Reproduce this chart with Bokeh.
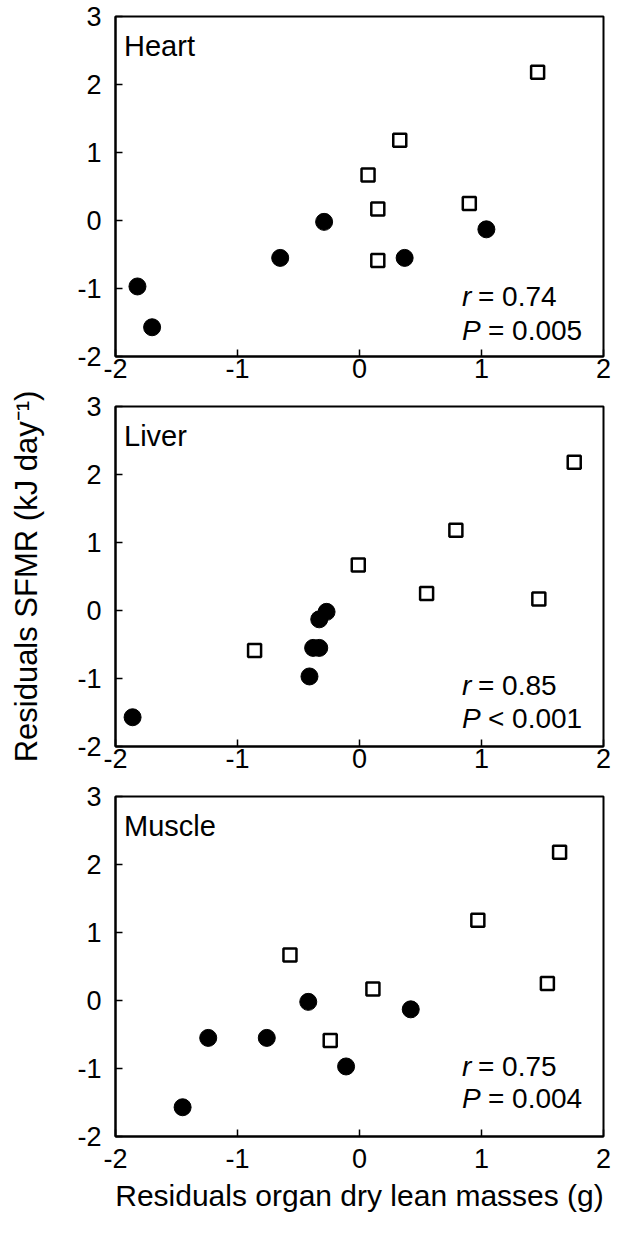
from bokeh.plotting import figure
from bokeh.layouts import column
from bokeh.models import FixedTicker, Label, Range1d
from bokeh.embed import file_html
from bokeh.resources import INLINE

# ---- data ----
panels = ["Heart", "Liver", "Muscle"]
r_values = ["0.74", "0.85", "0.75"]
p_texts = ["= 0.005", "< 0.001", "= 0.004"]

# residual SFMR (shared by all panels)
sfmr_open = [2.18, 1.18, 0.67, 0.17, 0.25, -0.59]
sfmr_filled = [-0.97, -1.57, -0.55, -0.55, -0.02, -0.13]

# residual organ dry lean masses per panel
heart_open = [1.46, 0.33, 0.07, 0.15, 0.90, 0.15]
heart_filled = [-1.82, -1.70, -0.65, 0.37, -0.29, 1.04]
liver_open = [1.76, 0.79, -0.01, 1.47, 0.55, -0.86]
liver_filled = [-0.41, -1.86, -0.38, -0.33, -0.27, -0.33]
muscle_open = [1.64, 0.97, -0.57, 0.11, 1.54, -0.24]
muscle_filled = [-0.11, -1.45, -1.24, -0.76, -0.42, 0.42]

x_ticks = [-2, -1, 0, 1, 2]
y_ticks = [-2, -1, 0, 1, 2, 3]

FONT = "Liberation Sans"
TICK_FS = "27px"
STAT_FS = "28px"

open_x = [heart_open, liver_open, muscle_open]
filled_x = [heart_filled, liver_filled, muscle_filled]

heights = [389, 390, 444]
tops = [16, 17, 17]
bottoms = [33, 33, 87]
x_standoff = [2, 2, 12]
stat_y = [(-1.12, -1.62), (-1.10, -1.59), (-0.97, -1.44)]

figs = []
for i, name in enumerate(panels):
    p = figure(width=616, height=heights[i], output_backend="svg",
               toolbar_location=None, x_range=Range1d(-2, 2), y_range=Range1d(-2, 3),
               min_border_left=115, min_border_right=13,
               min_border_top=tops[i], min_border_bottom=bottoms[i])
    p.grid.visible = False
    p.outline_line_color = "black"
    p.outline_line_width = 2
    p.outline_line_alpha = 1
    p.background_fill_color = "white"
    p.border_fill_color = "white"
    for ax, ticks in ((p.xaxis, x_ticks), (p.yaxis, y_ticks)):
        ax.ticker = FixedTicker(ticks=ticks)
        ax.major_label_overrides = {t: str(t) for t in ticks}
        ax.major_tick_in = 7
        ax.major_tick_out = 0
        ax.minor_tick_line_color = None
        ax.axis_line_width = 2
        ax.axis_line_color = "black"
        ax.major_tick_line_width = 1.5
        ax.major_tick_line_color = "black"
        ax.major_label_text_font = FONT
        ax.major_label_text_font_size = TICK_FS
        ax.major_label_text_color = "black"
    p.xaxis.major_label_standoff = x_standoff[i]
    p.yaxis.major_label_standoff = 14

    if i == 1:
        p.yaxis.axis_label = "Residuals SFMR (kJ day\u207b\u00b9)"
        p.yaxis.axis_label_text_font = FONT
        p.yaxis.axis_label_text_font_size = "31px"
        p.yaxis.axis_label_text_font_style = "normal"
        p.yaxis.axis_label_text_color = "black"
        p.yaxis.axis_label_standoff = 30
    if i == 2:
        p.xaxis.axis_label = "Residuals organ dry lean masses (g)"
        p.xaxis.axis_label_text_font = FONT
        p.xaxis.axis_label_text_font_size = "30px"
        p.xaxis.axis_label_text_font_style = "normal"
        p.xaxis.axis_label_text_color = "black"
        p.xaxis.axis_label_standoff = 8

    p.scatter(filled_x[i], sfmr_filled, marker="circle", size=17,
              fill_color="black", line_color="black")
    p.scatter(open_x[i], sfmr_open, marker="square", size=13,
              fill_color="white", line_color="black", line_width=2.5)

    p.add_layout(Label(x=-1.93, y=2.56, text=name, text_font=FONT, text_color="black",
                       text_font_size="29px", text_baseline="middle"))
    ry, py = stat_y[i]
    p.add_layout(Label(x=0.84, y=ry, text="r", text_font=FONT, text_font_style="italic",
                       text_color="black", text_font_size=STAT_FS, text_baseline="middle"))
    p.add_layout(Label(x=0.84, y=ry, x_offset=16, text="= " + r_values[i], text_font=FONT,
                       text_color="black", text_font_size=STAT_FS, text_baseline="middle"))
    p.add_layout(Label(x=0.84, y=py, text="P", text_font=FONT, text_font_style="italic",
                       text_color="black", text_font_size=STAT_FS, text_baseline="middle"))
    p.add_layout(Label(x=0.84, y=py, x_offset=26, text=p_texts[i], text_font=FONT,
                       text_color="black", text_font_size=STAT_FS, text_baseline="middle"))
    figs.append(p)

layout = column(*figs, spacing=0)
open("out.html", "w").write(file_html(layout, INLINE))
